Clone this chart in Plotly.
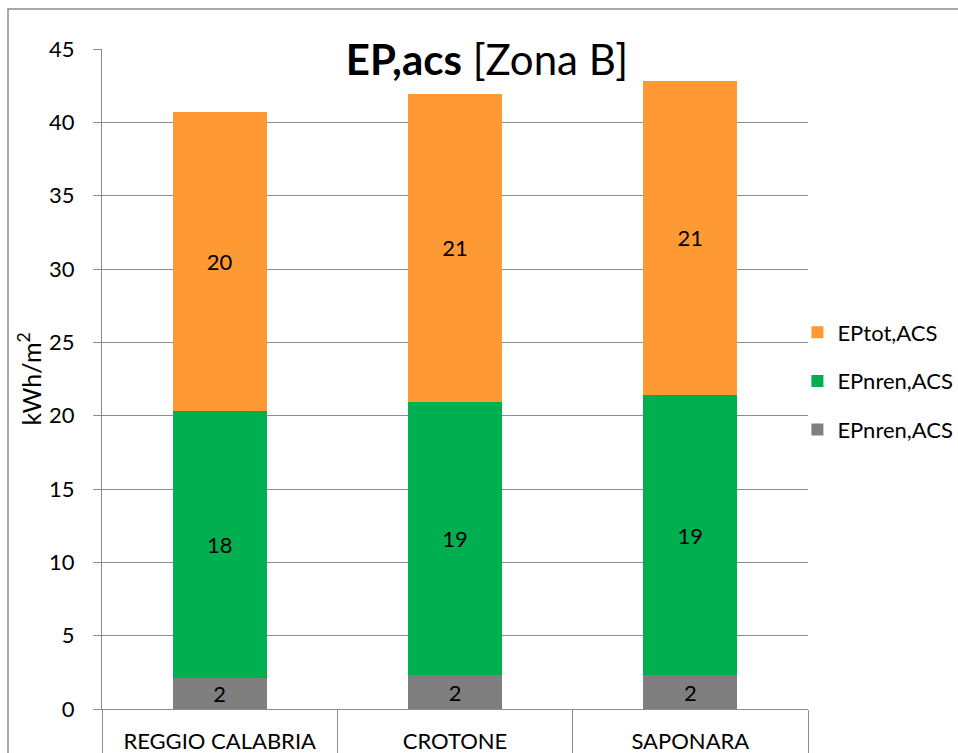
import plotly.graph_objects as go

# Energy demand for domestic hot water, climate zone B
sites = ["REGGIO CALABRIA", "CROTONE", "SAPONARA"]
ep_nren_gray = [2.09, 2.30, 2.30]
ep_nren_green = [18.25, 18.65, 19.11]
ep_tot_orange = [20.36, 20.98, 21.41]
series_names = ["EPnren,ACS", "EPnren,ACS", "EPtot,ACS"]
y_ticks = [0, 5, 10, 15, 20, 25, 30, 35, 40, 45]

colors = ["#7F7F7F", "#00B050", "#FF9933"]
legend_ranks = [3, 2, 1]
font_family = "Lato, 'Open Sans', sans-serif"
line_gray = "#8C8C8C"

fig = go.Figure()
for i, (vals, name, col) in enumerate(zip([ep_nren_gray, ep_nren_green, ep_tot_orange],
                                          series_names, colors)):
    fig.add_trace(go.Bar(
        x=sites, y=vals, name=name,
        marker=dict(color=col, line=dict(width=0)),
        texttemplate="%{y:.0f}", textposition="inside", insidetextanchor="middle",
        textangle=0, constraintext="none",
        textfont=dict(size=22, color="black", family=font_family),
        legendgroup=f"g{i}", legendrank=legend_ranks[i],
        hoverinfo="x+y+name",
    ))

fig.update_layout(
    width=958, height=753, autosize=False,
    margin=dict(l=102, r=150, t=49, b=44, autoexpand=False),
    barmode="stack", bargap=0.6,
    plot_bgcolor="white", paper_bgcolor="white",
    font=dict(family=font_family, size=22, color="black"),
    title=dict(text="<b>EP,acs</b> [Zona B]", x=487 / 958, xanchor="center",
               y=1 - 60 / 753, yanchor="middle",
               font=dict(size=42, color="black", family=font_family)),
    legend=dict(x=0.985, xanchor="left", y=0.497, yanchor="middle",
                traceorder="grouped", tracegroupgap=17,
                font=dict(size=22, color="black", family=font_family),
                bgcolor="rgba(0,0,0,0)"),
    xaxis=dict(showline=True, linecolor=line_gray, linewidth=1,
               ticks="outside", tickson="boundaries", ticklen=50,
               tickcolor=line_gray, tickwidth=1, ticklabelstandoff=13,
               automargin=False, tickfont=dict(size=22)),
    yaxis=dict(range=[0, 45], tickvals=y_ticks, showgrid=True,
               gridcolor=line_gray, gridwidth=1, zeroline=False,
               showline=True, linecolor=line_gray, linewidth=1,
               ticks="outside", ticklen=8, tickcolor=line_gray,
               ticklabelstandoff=14, tickfont=dict(size=22), automargin=False,
               title=dict(text="kWh/m<sup>2</sup>", standoff=0, font=dict(size=25))),
    shapes=[dict(type="rect", xref="paper", yref="paper",
                 x0=(8 - 102) / 706, x1=(970 - 102) / 706,
                 y0=(709 - 770) / 660, y1=(709 - 9) / 660,
                 line=dict(color=line_gray, width=1.5), layer="below")],
)

fig.write_html("out.html")
